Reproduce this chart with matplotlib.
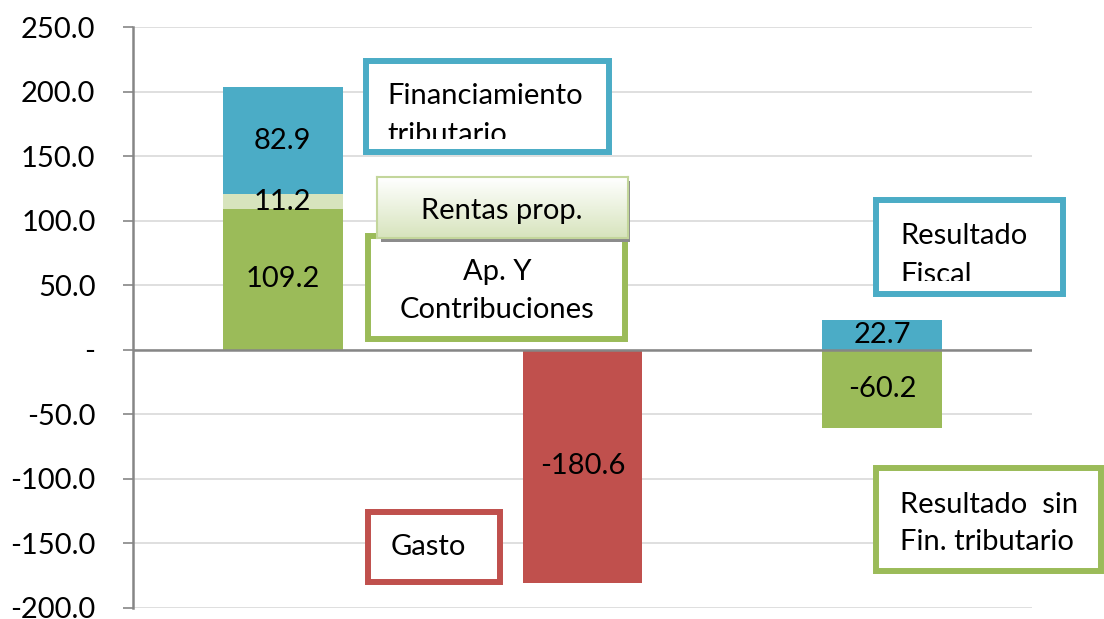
import numpy as np
import matplotlib.pyplot as plt
from matplotlib.patches import Rectangle
from matplotlib.colors import LinearSegmentedColormap

plt.rcParams['font.family'] = ['Lato', 'DejaVu Sans']

W, H = 1104, 619

# data
cats = [0, 1, 2]
green = [109.2, 0, -60.2]      # Ap. y contribuciones / resultado sin fin. trib.
light = [11.2, 0, 0]           # rentas prop.
blue = [82.9, 0, 22.7]         # financiamiento tributario / resultado fiscal
gasto = [0, -180.6, 0]

c_green = '#9BBB59'
c_light = '#D7E4BD'
c_blue = '#4BACC6'
c_red = '#C0504D'

fig = plt.figure(figsize=(W/100, H/100), dpi=100)
ax = fig.add_axes([133/W, 1-608/H, (1032-133)/W, (608-27)/H])

bw = 0.4
ax.bar(cats, green, bw, color=c_green, zorder=2)
ax.bar(cats, light, bw, bottom=green, color=c_light, zorder=2)
# blue sits on top of the positive stack, or starts at 0 when green is negative
bot_blue = [g + l if g > 0 else 0 for g, l in zip(green, light)]
ax.bar(cats, blue, bw, bottom=bot_blue, color=c_blue, zorder=2)
ax.bar(cats, gasto, bw, color=c_red, zorder=2)

fs = 21
def lab(x, y, v):
    ax.text(x, y, '%.1f' % v, ha='center', va='center', fontsize=fs, zorder=3)

lab(0, green[0]/2, green[0])
lab(0, green[0] + light[0]/2, light[0])
lab(0, bot_blue[0] + blue[0]/2, blue[0])
lab(1, gasto[1]/2, gasto[1])
lab(2, green[2]/2, green[2])
lab(2, blue[2]/2, blue[2])

ax.set_xlim(-0.5, 2.5)
ax.set_ylim(-200, 250)
ticks = np.arange(-200, 251, 50)
ax.set_yticks(ticks)
ax.set_yticklabels(['-' if t == 0 else '%.1f' % t for t in ticks], fontsize=fs)
ax.set_xticks([])
ax.yaxis.grid(True, color='#D9D9D9', lw=1.2, zorder=0)
ax.axhline(0, color='#868686', lw=1.8, zorder=4)
for s in ['top', 'right', 'bottom']:
    ax.spines[s].set_visible(False)
ax.spines['left'].set_color('#868686')
ax.spines['left'].set_linewidth(1.8)
ax.tick_params(axis='y', length=7, width=1.2, color='#868686', pad=20)


def box(x0, y0, x1, y1, color, lines, tx, baselines, ha='left', lw=4.3, z=5):
    # pixel coords, top-left origin, outer edge of the border
    inset = lw * 100 / 72 / 2
    r = Rectangle(((x0 + inset)/W, 1 - (y1 - inset)/H), (x1 - x0 - 2*inset)/W,
                  (y1 - y0 - 2*inset)/H, transform=fig.transFigure,
                  facecolor='white', edgecolor=color, lw=lw, zorder=z)
    fig.add_artist(r)
    cb = y1 - 2*inset - 10
    clip = Rectangle((x0/W, 1 - cb/H), (x1 - x0)/W, (cb - y0)/H,
                     transform=fig.transFigure, visible=False)
    fig.add_artist(clip)
    for s, by in zip(lines, baselines):
        t = fig.text(tx/W, 1 - by/H, s, ha=ha, va='baseline', fontsize=fs,
                     zorder=z + 1)
        t.set_clip_path(clip)


box(363, 58, 612, 155, c_blue, ['Financiamiento', 'tributario'], 387, [104, 143])
box(365, 233, 628, 342, c_green, ['Ap. Y', 'Contribuciones'], 497, [280, 318], ha='center')
box(873, 197, 1066, 297, c_blue, ['Resultado', 'Fiscal'], 900, [244, 283])
box(365, 509, 503, 585, c_red, ['Gasto'], 391, [555])
box(873, 465, 1104, 574, c_green, ['Resultado  sin', 'Fin. tributario'], 900, [513, 550])

# Rentas prop. box with gradient and shadow
sh = Rectangle((381/W, 1 - 242/H), (630-381)/W, (242-181)/H, transform=fig.transFigure,
               facecolor='#8c8c8c', edgecolor='none', zorder=7)
fig.add_artist(sh)
gax = fig.add_axes([377/W, 1 - 238/H, (628-377)/W, (238-177)/H], zorder=8)
grad = np.linspace(0, 1, 50).reshape(-1, 1)
cm = LinearSegmentedColormap.from_list('g', ['#FFFFFF', c_light])
gax.imshow(grad, aspect='auto', cmap=cm, extent=[0, 1, 1, 0])
gax.set_xticks([])
gax.set_yticks([])
for s in gax.spines.values():
    s.set_color('#C3D69B')
    s.set_linewidth(1.5)
fig.text(502/W, 1 - 219/H, 'Rentas prop.', ha='center', va='baseline',
         fontsize=fs, zorder=9)

fig.savefig('out.png', dpi=100)
